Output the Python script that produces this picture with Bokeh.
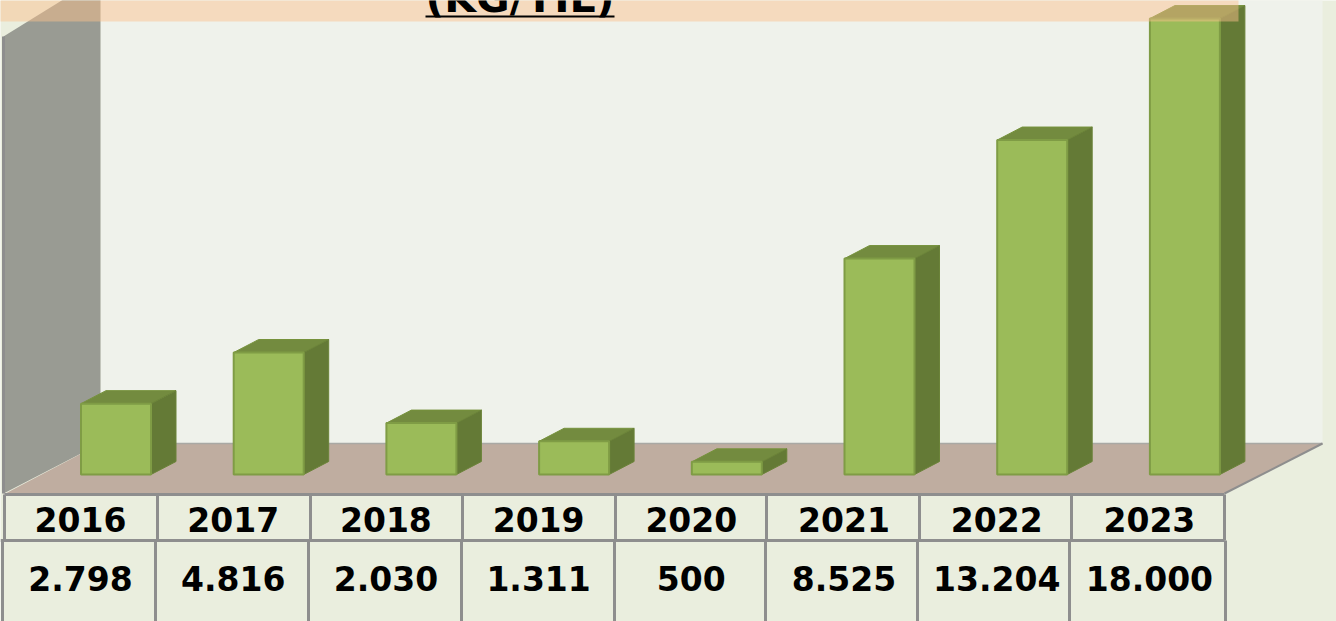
from bokeh.plotting import figure
from bokeh.embed import file_html
from bokeh.resources import INLINE
from bokeh.core.properties import value

years = ["2016", "2017", "2018", "2019", "2020", "2021", "2022", "2023"]
amounts = [2798, 4816, 2030, 1311, 500, 8525, 13204, 18000]
title_text = "(KG/YIL)"

W, H = 1336, 621
# Window pixels <-> data: bar i is centred at 115.5 + 152.7 i, value 0 sits at pixel row 474.
PX_X, X0 = 152.7, 115.5
PX_Y, Y0 = 0.02533, 474.0


def dx(px):
    return (px - X0) / PX_X


def dy(py):
    return (Y0 - py) / PX_Y


p = figure(width=W, height=H, x_range=(dx(0), dx(W)), y_range=(dy(H), dy(0)),
           output_backend="svg", toolbar_location=None, min_border=0,
           x_axis_location=None, y_axis_location=None,
           background_fill_color="#EAEEDE", border_fill_color="#EAEEDE",
           outline_line_color=None)
p.grid.visible = False


def poly(pts, **kw):
    p.patch([dx(a) for a, b in pts], [dy(b) for a, b in pts], **kw)


def seg(x0, y0, x1, y1, **kw):
    p.line([dx(x0), dx(x1)], [dy(y0), dy(y1)], **kw)


# back wall, side wall, floor
poly([(100, -2), (1322, -2), (1322, 443), (100, 443)], fill_color="#EFF2EB", line_color=None)
poly([(3, 36), (100, -24), (100, 443), (3, 493)], fill_color="#999B93", line_color=None)
seg(3, 36, 3, 493, line_color="#8E8E8E", line_width=3)
poly([(5, 493), (100, 443), (1322, 443), (1224, 493)], fill_color="#BFADA0", line_color=None)
seg(100, 443, 1322, 443, line_color="#A9A9A4", line_width=1.5)
seg(1224, 493, 1322, 443, line_color="#8E8E8E", line_width=2)

# bars
half = 35 / PX_X
depth_x = 25 / PX_X
depth_y = 13 / PX_Y
for i, v in enumerate(amounts):
    l, r = i - half, i + half
    p.patch([l, r, r + depth_x, l + depth_x], [v, v, v + depth_y, v + depth_y],
            fill_color="#738B3F", line_color="#76923C", line_width=1)
    p.patch([r, r + depth_x, r + depth_x, r], [0, depth_y, v + depth_y, v],
            fill_color="#647A36", line_color="#6B8339", line_width=1)
    p.quad(left=l, right=r, bottom=0, top=v, fill_color="#9BBB59",
           line_color="#7F9C45", line_width=2)

# translucent title band
poly([(-2, -2), (1238, -2), (1238, 21), (-2, 21)], fill_color="#FBC08D",
     fill_alpha=0.48, line_color=None)
p.text([dx(519.5)], [dy(-3)], text=[title_text], text_align="center",
       text_baseline="alphabetic", text_font=value("DejaVu Sans"),
       text_font_style="bold", text_font_size="41px", text_color="#000000")
seg(425, 16, 614, 16, line_color="#000000", line_width=2)

# data table
GRID = dict(line_color="#8E8E8E", line_width=3)
seg(4, 494, 1224, 494, **GRID)
seg(0, 540, 1224, 540, **GRID)
row1 = [4, 157, 310, 462, 615, 766, 919, 1071, 1224]
row2 = [2, 155, 308, 461, 614, 765, 917, 1069, 1225]
for a in row1:
    seg(a, 494, a, 540, **GRID)
for a in row2:
    seg(a, 540, a, 623, **GRID)

centers = [i - (115.5 - 80) / PX_X for i in range(len(years))]
p.text(centers, [dy(519)] * len(years), text=years, text_align="center",
       text_baseline="middle", text_font=value("DejaVu Sans"),
       text_font_style="bold", text_font_size="33px", text_color="#000000")
labels = [f"{v:,}".replace(",", ".") for v in amounts]
p.text(centers, [dy(578)] * len(labels), text=labels, text_align="center",
       text_baseline="middle", text_font=value("DejaVu Sans"),
       text_font_style="bold", text_font_size="33px", text_color="#000000")

open("out.html", "w").write(file_html(p, INLINE))
